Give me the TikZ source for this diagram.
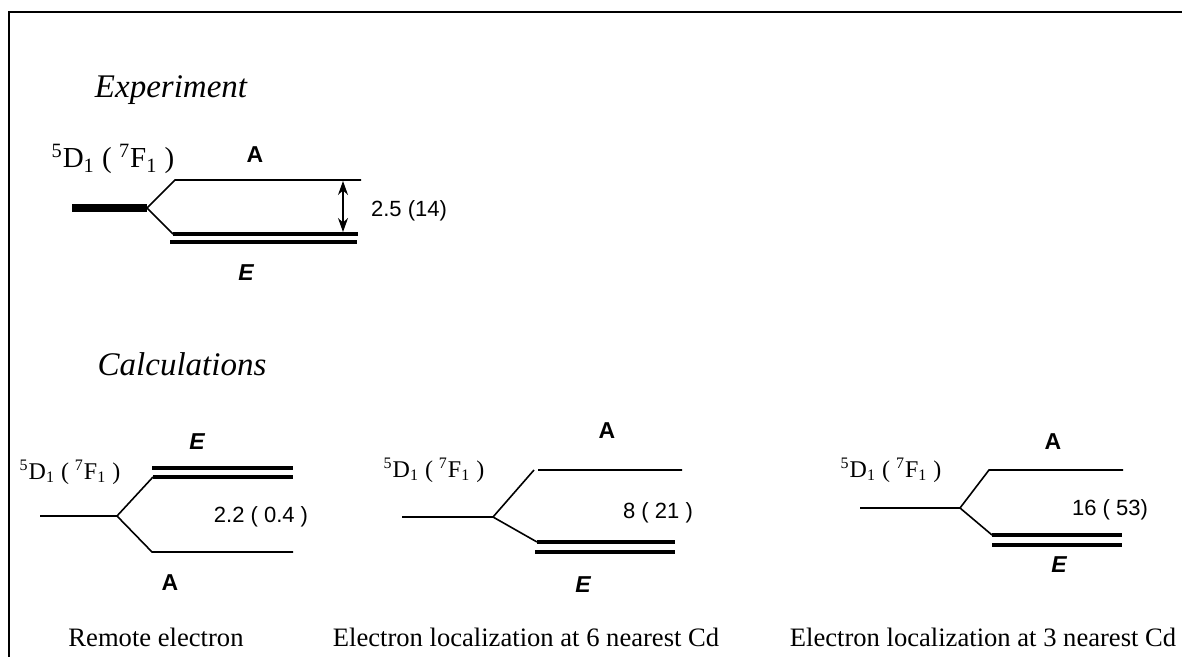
\documentclass[tikz,border=0pt]{standalone}
\usepackage{fontspec}
\setmainfont{Liberation Serif}
\setsansfont{Liberation Sans}
\usetikzlibrary{arrows.meta}
\tikzset{
  level/.style   = {line width=0.8pt},
  dlevel/.style  = {line width=1.8pt},
  termlbl/.style = {inner sep=0pt, font=\fontsize{12}{14}\selectfont},
  symlbl/.style  = {inner sep=0pt, font=\sffamily\bfseries\fontsize{11.5}{13}\selectfont},
  gaplbl/.style  = {inner sep=0pt, font=\sffamily\fontsize{11}{13}\selectfont},
  caplbl/.style  = {inner sep=0pt, font=\fontsize{13.3}{16}\selectfont},
  headlbl/.style = {inner sep=0pt, font=\itshape\fontsize{16.5}{20}\selectfont},
}
\newcommand{\termtxt}{\textsuperscript{5}D\textsubscript{1} ( \textsuperscript{7}F\textsubscript{1} )}

\begin{document}
\begin{tikzpicture}[x=0.5pt, y=-0.5pt]
\useasboundingbox (0,0) rectangle (1182,657);
% ---- frame ----
\draw[line width=1pt] (9,657) -- (9,12) -- (1182,12);
% ---- experiment ----
\node[headlbl] (exphead) at (171,90) {Experiment};
\node[termlbl, font=\fontsize{14.5}{17}\selectfont] (expterm) at (113,159) {\termtxt};
\coordinate (expsplit) at (147,208);
\draw[line width=3.75pt] (72,208) -- (expsplit);
\draw[level] (expsplit) -- (175,180) -- (361,180);
\draw[level] (expsplit) -- (173,234);
\draw[dlevel] (173,234) -- (358,234);
\draw[dlevel] (170,242) -- (357,242);
\node[symlbl] (expA) at (255,155) {A};
\node[symlbl] (expE) at (246,273) {\itshape E};
\draw[{Stealth[length=7pt,width=5pt]}-{Stealth[length=7pt,width=5pt]}, line width=0.6pt]
      (343,181) -- (343,232);
\node[gaplbl] (expgap) at (409,211) {2.5 (14)};
% ---- calculations ----
\node[headlbl] (calchead) at (182,364) {Calculations};
% ---- remote electron ----
\node[termlbl] (remterm) at (70,472) {\termtxt};
\coordinate (remsplit) at (117,516);
\draw[level] (40,516) -- (remsplit);
\draw[level] (remsplit) -- (153,477);
\draw[dlevel] (153,477) -- (293,477);
\draw[dlevel] (152,468) -- (293,468);
\draw[level] (remsplit) -- (152,552) -- (293,552);
\node[symlbl] (remE) at (197,442) {\itshape E};
\node[symlbl] (remA) at (170,583) {A};
\node[gaplbl] (remgap) at (261,517) {2.2 ( 0.4 )};
\node[caplbl] (remcap) at (156,637) {Remote electron};
% ---- six nearest Cd ----
\node[termlbl] (sixterm) at (434,470) {\termtxt};
\coordinate (sixsplit) at (493,517);
\draw[level] (402,517) -- (sixsplit);
\draw[level] (sixsplit) -- (534,470) (538,470) -- (682,470);
\draw[level] (sixsplit) -- (537,542);
\draw[dlevel] (537,542) -- (675,542);
\draw[dlevel] (535,552) -- (675,552);
\node[symlbl] (sixA) at (607,431) {A};
\node[symlbl] (sixE) at (583,585) {\itshape E};
\node[gaplbl] (sixgap) at (658,513) {8 ( 21 )};
\node[caplbl] (sixcap) at (526,637) {Electron localization at 6 nearest Cd};
% ---- three nearest Cd ----
\node[termlbl] (thrterm) at (891,470) {\termtxt};
\coordinate (thrsplit) at (960,508);
\draw[level] (860,508) -- (thrsplit);
\draw[level] (thrsplit) -- (989,470) -- (1123,470);
\draw[level] (thrsplit) -- (992,535);
\draw[dlevel] (992,535) -- (1122,535);
\draw[dlevel] (992,545) -- (1122,545);
\node[symlbl] (thrA) at (1053,442) {A};
\node[symlbl] (thrE) at (1059,565) {\itshape E};
\node[gaplbl] (thrgap) at (1110,510) {16 ( 53)};
\node[caplbl] (thrcap) at (983,637) {Electron localization at 3 nearest Cd};
\end{tikzpicture}
\end{document}
